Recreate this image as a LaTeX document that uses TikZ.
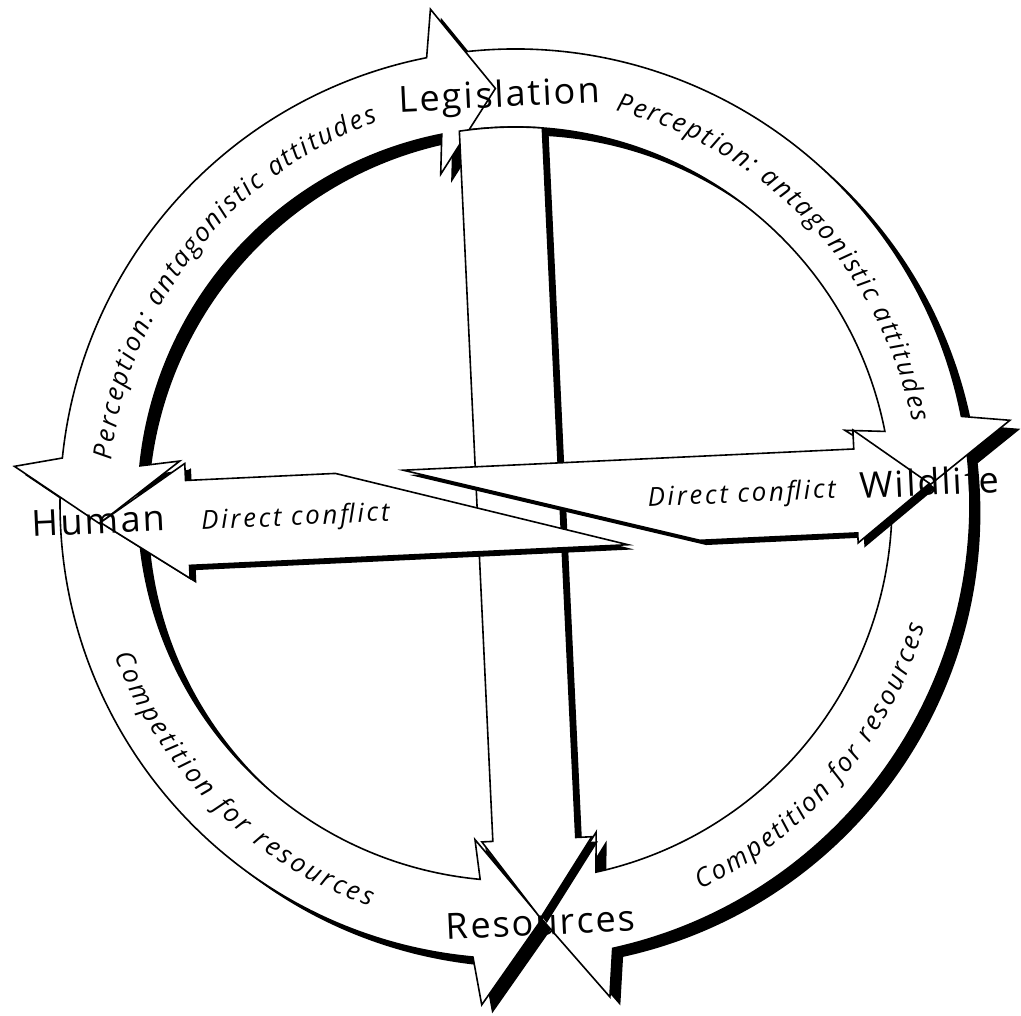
\documentclass[tikz,border=0pt]{standalone}
\usepackage{fontspec}
\setmainfont{Open Sans}
\newfontfamily\labelfont[LetterSpace=6]{Open Sans}
\newfontfamily\notefont[LetterSpace=10]{Open Sans}
\newfontfamily\arcfam{Open Sans}
\usetikzlibrary{decorations.text}

% a piece with a hard drop shadow: #1,#2 = shadow offset, #3 = path
\newcommand\castpiece[3]{%
  \fill[black, shift={(#1,#2)}] #3;
  \path[body] #3;}

\newcommand\arcfont{\arcfam\itshape\fontsize{26}{30}\selectfont}

% the four pieces of the ring (outer radius 455, inner radius 377)
% lower right arc, Wildlife -> Resources
\newcommand\ringBR{(4.5:455) arc[start angle=4.5, end angle=-80.3, radius=455]
     -- (-81.8:502) -- (-89:416) -- (-78.8:338) -- (-80.3:377)
     arc[start angle=-80.3, end angle=4.5, radius=377] -- cycle}
% lower left arc, Human -> Resources
\newcommand\ringBL{(175:455) arc[start angle=175, end angle=262, radius=455]
     -- (263.5:502) -- (271:416) -- (260.5:338) -- (262:377)
     arc[start angle=262, end angle=175, radius=377] -- cycle}
% upper right arc, Legislation -> Wildlife
\newcommand\ringTR{(96:455) arc[start angle=96, end angle=8.4, radius=455]
     -- (6.9:502) -- (0:416) -- (9.9:338) -- (8.4:377)
     arc[start angle=8.4, end angle=96, radius=377] -- cycle}
% upper left arc, Human <-> Legislation
\newcommand\ringTL{(171.5:455) arc[start angle=171.5, end angle=98.5, radius=455]
     -- (97:502) -- (90:416) -- (100:338) -- (98.5:377)
     arc[start angle=98.5, end angle=171.5, radius=377]
     -- (170:338) -- (180:416) -- (173:502) -- cycle}

\begin{document}
\begin{tikzpicture}[x=1pt, y=1pt,
  body/.style={fill=white, draw=black, line width=1.6pt, line join=miter},
  place/.style={font=\labelfont\fontsize{36}{40}\selectfont, inner sep=0pt, anchor=base},
  note/.style={font=\notefont\itshape\fontsize{26}{30}\selectfont, inner sep=0pt, anchor=base},
  arctext/.style={decorate, decoration={text along path, text={|\arcfont|#1}, text align={fit to path}}}
]
\useasboundingbox (-515,-512) rectangle (506,504);

\begin{scope}[rotate=2.7, transform shape]
  % ring: one shadow for the whole ring, then the pieces
  \begin{scope}[shift={(10,-9)}]
    \fill[black] \ringBR;
    \fill[black] \ringBL;
    \fill[black] \ringTR;
    \fill[black] \ringTL;
  \end{scope}
  \path[body] \ringBR;
  \path[body] \ringBL;
  \path[body] \ringTR;
  \path[body] \ringTL;

  % straight arrow Legislation -> Resources
  \castpiece{6}{-5}{(83.14:377) -- (45,-336) -- (61,-336) -- (6,-415)
     -- (-49,-336) -- (-38,-336) -- (95.79:377)
     arc[start angle=95.79, end angle=83.14, radius=377] -- cycle}

  % direct conflict arrows
  \castpiece{6}{-5}{(-110,39) -- (341,39) -- (341,58) -- (415,1) -- (341,-55)
     -- (341,-45) -- (183,-45) -- cycle}
  \castpiece{6}{-5}{(111,-46) -- (-328,-46) -- (-328,-59) -- (-415,1) -- (-328,56)
     -- (-328,39) -- (-178,39) -- cycle}

  % texts along the ring
  \path[arctext={Perception: antagonistic attitudes}]
     (171.1:406) arc[start angle=171.1, end angle=107.1, radius=406];
  \path[arctext={Perception: antagonistic attitudes}]
     (73:406) arc[start angle=73, end angle=8.9, radius=406];
  \path[arctext={Competition for resources}]
     (198:428) arc[start angle=198, end angle=247.5, radius=428];
  \path[arctext={Competition for resources}]
     (293:428) arc[start angle=293, end angle=340.7, radius=428];

  % labels
  \node[place] (legislation) at (4,397) {Legislation};
  \node[place] (human) at (-417,-10) {Human};
  \node[place] (wildlife) at (415,-11) {Wildlife};
  \node[place] (resources) at (6,-432) {Resources};
  \node[note] (conflictL) at (-220,-11) {Direct conflict};
  \node[note] (conflictR) at (227,-9) {Direct conflict};
\end{scope}
\end{tikzpicture}
\end{document}
